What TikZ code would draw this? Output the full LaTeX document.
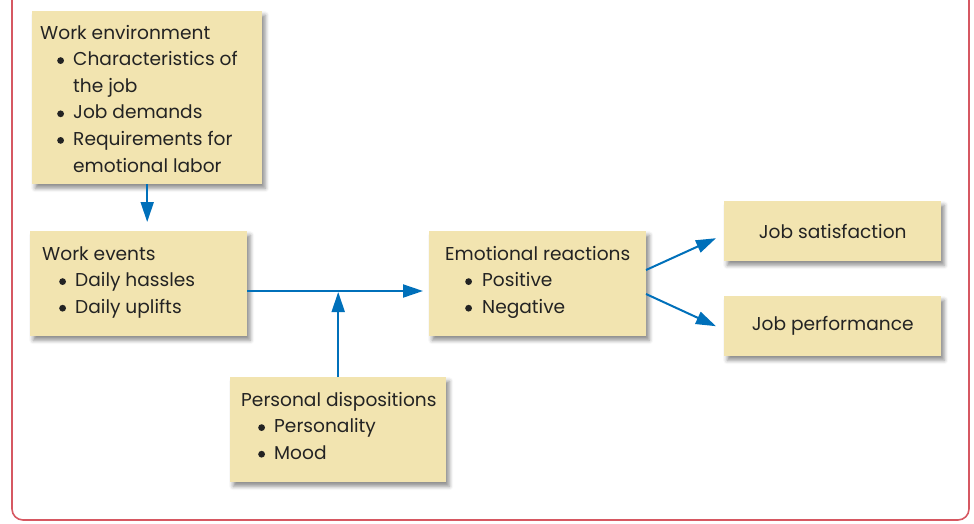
\documentclass[tikz,border=0pt]{standalone}
\usepackage{fontspec}
\setmainfont{Poppins}
\usetikzlibrary{arrows.meta,shadows.blur}
\definecolor{boxfill}{RGB}{242,228,176}
\definecolor{txtcol}{RGB}{35,35,35}
\definecolor{arrblue}{RGB}{0,112,186}
\definecolor{framered}{RGB}{214,88,98}
\newlength{\bulind}\setlength{\bulind}{17pt}
\newlength{\txtind}\setlength{\txtind}{33pt}
\newcommand{\bul}{\tikz[baseline=-5pt]\fill[txtcol] (0pt,0pt) circle[radius=3.4pt];}
\newcommand{\bitem}[1]{\hbox{\hspace*{\bulind}\makebox[\dimexpr\txtind-\bulind\relax][l]{\bul}#1}}
\newcommand{\cont}[1]{\hbox{\hspace*{\txtind}#1}}
\newcommand{\ttl}[1]{\hbox{#1}}
\newcommand{\mylines}[1]{\vtop{\baselineskip=26.6pt\lineskiplimit=-20pt #1}}
\tikzset{
  box/.style={draw=none, fill=boxfill, anchor=north west, inner sep=0pt,
    blur shadow={shadow xshift=3pt, shadow yshift=-4pt, shadow blur radius=4pt, shadow opacity=45}},
  txt/.style={anchor=base west, inner sep=0pt, text=txtcol, font=\fontsize{18.6}{26.6}\selectfont},
  ctxt/.style={text=txtcol, font=\fontsize{18.6}{26.6}\selectfont},
  arr/.style={draw=arrblue, line width=2pt, -{Triangle[length=20pt,width=13pt]}},
  frame/.style={draw=framered, line width=1.6pt, rounded corners=11pt}
}
\begin{document}
\begin{tikzpicture}[x=1pt,y=-1pt]
\useasboundingbox (0,0) rectangle (974,523);
\draw[frame] (12,-40) rectangle (969,520);
% boxes
\node[box, minimum width=230pt, minimum height=173pt] (env) at (32,11) {};
\node[box, minimum width=217pt, minimum height=105pt] (events) at (30,231) {};
\node[box, minimum width=217pt, minimum height=105pt] (emo) at (429,231) {};
\node[box, minimum width=216pt, minimum height=105pt] (pers) at (230,377) {};
\node[box, minimum width=217pt, minimum height=60pt, ctxt] (sat) at (724,201) {Job satisfaction};
\node[box, minimum width=217pt, minimum height=60pt, ctxt] (perf) at (724,296) {Job performance};
% texts
\node[txt] (envt) at (40,39) {\mylines{\ttl{Work environment}\bitem{Characteristics of}\cont{the job}\bitem{Job demands}\bitem{Requirements for}\cont{emotional labor}}};
\node[txt] (eventst) at (42,260) {\mylines{\ttl{Work events}\bitem{Daily hassles}\bitem{Daily uplifts}}};
\node[txt] (emot) at (445,260) {\setlength{\bulind}{20pt}\setlength{\txtind}{37pt}\mylines{\ttl{Emotional reactions}\bitem{Positive}\bitem{Negative}}};
\node[txt] (perst) at (241,406) {\mylines{\ttl{Personal dispositions}\bitem{Personality}\bitem{Mood}}};
% connectors
\coordinate (ly) at (0,291);
\draw[arr, shorten >=9pt] (env.south) -- (env.south |- events.north);
\draw[arr, shorten >=6pt] (events.east |- ly) -- (emo.west |- ly);
\draw[arr, shorten >=1pt] (pers.north) -- (pers.north |- ly);
\coordinate (emoa) at (646,270);
\coordinate (emob) at (646,294);
\draw[arr] (emoa) -- ([xshift=-8pt,yshift=-7pt]sat.west);
\draw[arr] (emob) -- ([xshift=-8pt]perf.west);
\end{tikzpicture}
\end{document}
